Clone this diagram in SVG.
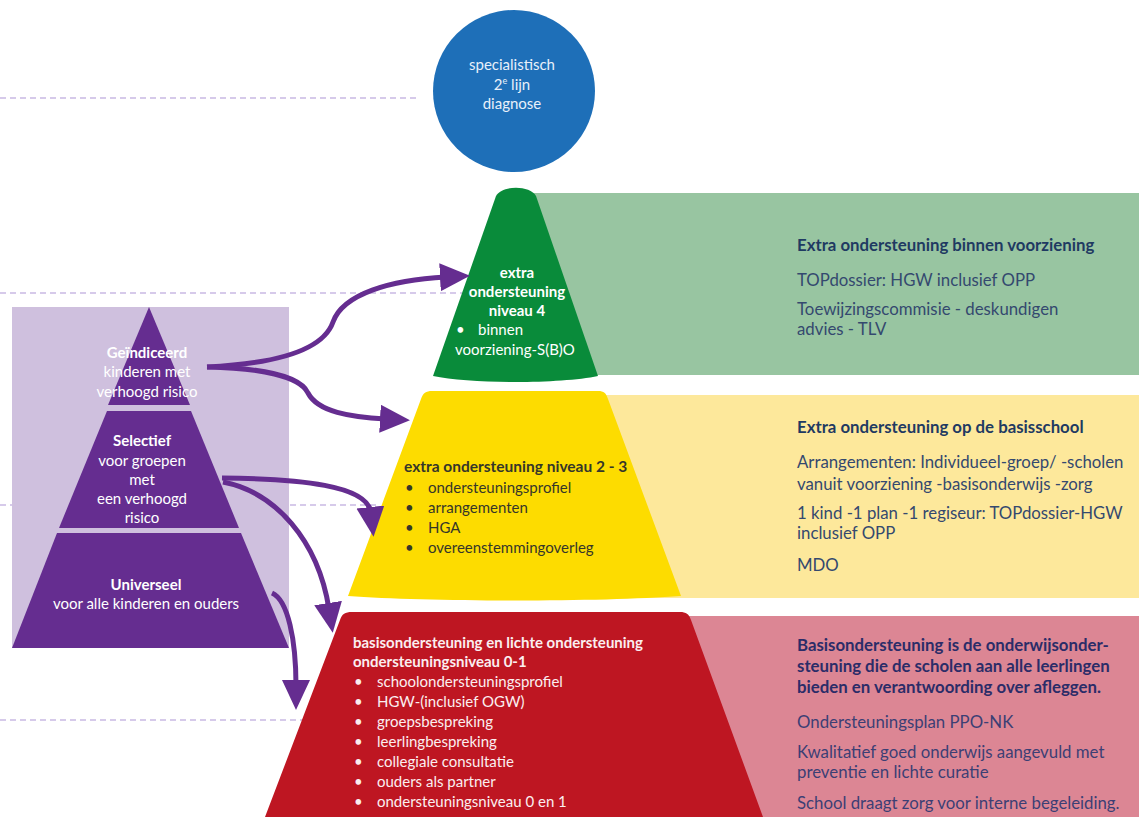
<svg xmlns="http://www.w3.org/2000/svg" width="1139" height="817" viewBox="0 0 1139 817">
<style>
.t{font-family:Lato,"Open Sans","Liberation Sans",sans-serif}
.b{font-weight:bold}
.w{fill:#ffffff}
.cw{fill:#e8f0fa}
.pw{fill:#fbeef0}
.dk{fill:#35362a}
.nv{fill:#1f3a62}
.nb{fill:#34496f}
.rv{fill:#2b2c68}
.rb{fill:#3c3f74}
.rp{font-size:16.8px}
.cn{font-size:15px}
.dash{stroke:#ad95d6;stroke-width:1.2;stroke-dasharray:6 4;fill:none}
.arr{stroke:#652d90;stroke-width:5;fill:none;marker-end:url(#ah)}
</style>
<defs>
<marker id="ah" markerUnits="userSpaceOnUse" markerWidth="32" markerHeight="30" refX="6" refY="14" orient="auto">
<path d="M0,0 L30,14 L0,28 Z" fill="#652d90"/>
</marker>
</defs>
<rect width="1139" height="817" fill="#ffffff"/>

<g id="guides">
<line class="dash" x1="0" y1="98" x2="418" y2="98"/>
<line class="dash" x1="0" y1="293" x2="462" y2="293"/>
<line class="dash" x1="0" y1="505" x2="376" y2="505"/>
<line class="dash" x1="0" y1="720" x2="302" y2="720"/>
</g>

<g id="panel-green">
<rect x="530" y="193" width="609" height="182" fill="#98c5a1"/>
<text class="t rp b nv" x="797" y="251">Extra ondersteuning binnen voorziening</text>
<text class="t rp nb" x="797" y="286">TOPdossier: HGW inclusief OPP</text>
<text class="t rp nb" x="797" y="315">Toewijzingscommisie - deskundigen</text>
<text class="t rp nb" x="797" y="335">advies - TLV</text>
</g>

<g id="panel-yellow">
<rect x="600" y="395" width="539" height="203" fill="#fde89b"/>
<text class="t rp b nv" x="797" y="433">Extra ondersteuning op de basisschool</text>
<text class="t rp nb" x="797" y="468">Arrangementen: Individueel-groep/ -scholen</text>
<text class="t rp nb" x="797" y="490">vanuit voorziening -basisonderwijs -zorg</text>
<text class="t rp nb" x="797" y="519">1 kind -1 plan -1 regiseur: TOPdossier-HGW</text>
<text class="t rp nb" x="797" y="539">inclusief OPP</text>
<text class="t rp nb" x="797" y="571">MDO</text>
</g>

<g id="panel-red">
<rect x="680" y="616" width="459" height="201" fill="#dc8694"/>
<text class="t rp b rv" x="797" y="651">Basisondersteuning is de onderwijsonder-</text>
<text class="t rp b rv" x="797" y="672">steuning die de scholen aan alle leerlingen</text>
<text class="t rp b rv" x="797" y="693">bieden en verantwoording over afleggen.</text>
<text class="t rp rb" x="797" y="728">Ondersteuningsplan PPO-NK</text>
<text class="t rp rb" x="797" y="758">Kwalitatief goed onderwijs aangevuld met</text>
<text class="t rp rb" x="797" y="778">preventie en lichte curatie</text>
<text class="t rp rb" x="797" y="809">School draagt zorg voor interne begeleiding.</text>
</g>

<g id="circle-diagnose">
<circle cx="514" cy="91" r="81" fill="#1e6fb8"/>
<text class="t cn cw" x="512" y="70" text-anchor="middle">specialistisch</text>
<text class="t cn cw" x="512" y="90" text-anchor="middle">2<tspan font-size="9" dy="-6">e</tspan><tspan dy="6"> lijn</tspan></text>
<text class="t cn cw" x="512" y="109" text-anchor="middle">diagnose</text>
</g>

<g id="cone-green">
<path d="M433,376 L496,196 C502,185 530,185 536,196 L598,376 C560,384 470,384 433,376 Z" fill="#098b3a"/>
<text class="t cn b w" x="517" y="278" text-anchor="middle">extra</text>
<text class="t cn b w" x="517" y="297" text-anchor="middle">ondersteuning</text>
<text class="t cn b w" x="517" y="316" text-anchor="middle">niveau 4</text>
<text class="t cn w" x="456" y="335">•</text>
<text class="t cn w" x="478" y="335">binnen</text>
<text class="t cn w" x="455" y="355">voorziening-S(B)O</text>
</g>

<g id="cone-yellow">
<path d="M348,596 L421,399 C423,393 426,391 432,391 L598,391 C604,391 606,393 608,399 L681,596 C600,602 430,602 348,596 Z" fill="#fddc00"/>
<text class="t b dk" x="404" y="472" font-size="15.5">extra ondersteuning niveau 2 - 3</text>
<text class="t cn dk" x="405" y="493">•</text>
<text class="t cn dk" x="428" y="493">ondersteuningsprofiel</text>
<text class="t cn dk" x="405" y="513">•</text>
<text class="t cn dk" x="428" y="513">arrangementen</text>
<text class="t cn dk" x="405" y="533">•</text>
<text class="t cn dk" x="428" y="533">HGA</text>
<text class="t cn dk" x="405" y="553">•</text>
<text class="t cn dk" x="428" y="553">overeenstemmingoverleg</text>
</g>

<g id="cone-red">
<path d="M265,817 L340,620 C342,614 345,612 352,612 L680,612 C686,612 689,614 691,620 L763,817 Z" fill="#be1622"/>
<text class="t cn b pw" x="353" y="648">basisondersteuning en lichte ondersteuning</text>
<text class="t cn b pw" x="353" y="667">ondersteuningsniveau 0-1</text>
<text class="t cn pw" x="354" y="687">•</text>
<text class="t cn pw" x="377" y="687">schoolondersteuningsprofiel</text>
<text class="t cn pw" x="354" y="707">•</text>
<text class="t cn pw" x="377" y="707">HGW-(inclusief OGW)</text>
<text class="t cn pw" x="354" y="727">•</text>
<text class="t cn pw" x="377" y="727">groepsbespreking</text>
<text class="t cn pw" x="354" y="747">•</text>
<text class="t cn pw" x="377" y="747">leerlingbespreking</text>
<text class="t cn pw" x="354" y="767">•</text>
<text class="t cn pw" x="377" y="767">collegiale consultatie</text>
<text class="t cn pw" x="354" y="787">•</text>
<text class="t cn pw" x="377" y="787">ouders als partner</text>
<text class="t cn pw" x="354" y="807">•</text>
<text class="t cn pw" x="377" y="807">ondersteuningsniveau 0 en 1</text>
</g>

<g id="pyramid">
<rect x="12" y="307" width="277" height="341" fill="#cfc0de"/>
<g id="tier-geindiceerd">
<path d="M149,307 L190,405 L108,405 Z" fill="#652d90"/>
<text class="t cn b w" x="147" y="358" text-anchor="middle">Geïndiceerd</text>
<text class="t cn w" x="147" y="377" text-anchor="middle">kinderen met</text>
<text class="t cn w" x="147" y="397" text-anchor="middle">verhoogd risico</text>
</g>
<g id="tier-selectief">
<path d="M107,411 L191,411 L239,528 L59,528 Z" fill="#652d90"/>
<text class="t cn b w" x="142" y="446" text-anchor="middle">Selectief</text>
<text class="t cn w" x="142" y="466" text-anchor="middle">voor groepen</text>
<text class="t cn w" x="142" y="485" text-anchor="middle">met</text>
<text class="t cn w" x="142" y="504" text-anchor="middle">een verhoogd</text>
<text class="t cn w" x="142" y="523" text-anchor="middle">risico</text>
</g>
<g id="tier-universeel">
<path d="M57,533 L241,533 L289,648 L12,648 Z" fill="#652d90"/>
<text class="t cn b w" x="146" y="590" text-anchor="middle">Universeel</text>
<text class="t cn w" x="146" y="609" text-anchor="middle">voor alle kinderen en ouders</text>
</g>
</g>

<g id="connectors">
<path class="arr" d="M207,367 C290,363 325,345 333,322 C343,294 390,280 446,277"/>
<path class="arr" d="M207,367 C260,368 300,376 308,393 C318,412 350,417 386,419"/>
<path class="arr" d="M222,478 C300,479 368,485 371,513"/>
<path class="arr" d="M223,482 C275,492 318,540 329,609"/>
<path class="arr" d="M272,593 C288,600 296,640 296,686"/>
</g>
</svg>
